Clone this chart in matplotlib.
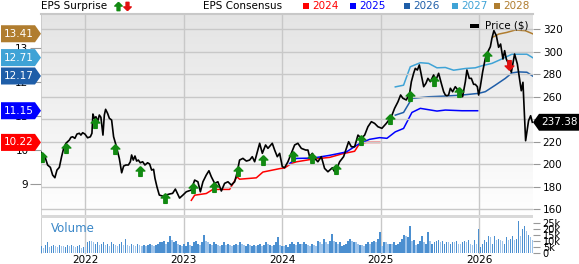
import numpy as np
import matplotlib.pyplot as plt
from matplotlib.patches import Polygon, Rectangle
from matplotlib.lines import Line2D
from matplotlib.colors import LinearSegmentedColormap
import matplotlib.transforms as mtransforms

plt.rcParams['font.family'] = 'DejaVu Sans'

# ---- data (decimal years) ----
price_t = [2021.543, 2021.566, 2021.590, 2021.617, 2021.645, 2021.668, 2021.691, 2021.712, 2021.736, 2021.759,
           2021.780, 2021.803, 2021.838, 2021.854, 2021.871, 2021.894, 2021.915, 2021.939, 2021.955, 2021.973,
           2021.996, 2022.023, 2022.051, 2022.067, 2022.077, 2022.091, 2022.108, 2022.125, 2022.142, 2022.158,
           2022.179, 2022.193, 2022.206, 2022.226, 2022.244, 2022.267, 2022.287, 2022.311, 2022.345, 2022.369,
           2022.389, 2022.412, 2022.437, 2022.457, 2022.470, 2022.487, 2022.504, 2022.521, 2022.538, 2022.558,
           2022.582, 2022.605, 2022.632, 2022.653, 2022.673, 2022.693, 2022.707, 2022.727, 2022.751, 2022.785,
           2022.818, 2022.853, 2022.886, 2022.914, 2022.957, 2022.991, 2023.025, 2023.076, 2023.110, 2023.143,
           2023.168, 2023.194, 2023.228, 2023.255, 2023.279, 2023.313, 2023.346, 2023.381, 2023.414, 2023.448,
           2023.482, 2023.516, 2023.539, 2023.566, 2023.600, 2023.635, 2023.668, 2023.695, 2023.719, 2023.742,
           2023.770, 2023.797, 2023.830, 2023.854, 2023.898, 2023.922, 2023.949, 2023.973, 2024.000, 2024.023,
           2024.057, 2024.091, 2024.125, 2024.158, 2024.193, 2024.237, 2024.260, 2024.277, 2024.305, 2024.328,
           2024.361, 2024.396, 2024.429, 2024.463, 2024.508, 2024.531, 2024.554, 2024.582, 2024.622, 2024.650,
           2024.673, 2024.701, 2024.734, 2024.768, 2024.802, 2024.836, 2024.869, 2024.904, 2024.937, 2024.971,
           2025.011, 2025.056, 2025.107, 2025.140, 2025.174, 2025.201, 2025.224, 2025.259, 2025.292, 2025.310,
           2025.333, 2025.350, 2025.371, 2025.391, 2025.411, 2025.435, 2025.458, 2025.478, 2025.503, 2025.536,
           2025.559, 2025.587, 2025.614, 2025.638, 2025.655, 2025.671, 2025.688, 2025.706, 2025.729, 2025.756,
           2025.783, 2025.807, 2025.830, 2025.858, 2025.874, 2025.898, 2025.919, 2025.942, 2025.959, 2025.980,
           2025.993, 2026.010, 2026.034, 2026.061, 2026.087, 2026.112, 2026.128, 2026.148, 2026.173, 2026.196,
           2026.216, 2026.240, 2026.257, 2026.274, 2026.297, 2026.325, 2026.358, 2026.386, 2026.409, 2026.426,
           2026.443, 2026.470, 2026.500, 2026.521, 2026.538]
price_v = [211.8, 208.3, 206.8, 199.4, 197.3, 190.5, 188.1, 194.9, 197.3, 206.8,
           214.2, 218.7, 221.6, 224.0, 224.5, 223.1, 226.9, 227.6, 226.0, 228.1,
           226.9, 223.6, 224.5, 227.6, 244.7, 240.9, 242.3, 237.9, 243.8, 241.8,
           226.0, 243.8, 248.9, 245.3, 240.9, 239.4, 224.5, 217.2, 205.3, 192.5,
           198.5, 199.4, 199.4, 202.3, 208.3, 203.8, 207.4, 202.9, 203.8, 201.4,
           202.3, 199.4, 201.4, 200.3, 194.9, 195.6, 187.6, 180.1, 172.7, 171.8,
           172.7, 173.6, 174.2, 178.0, 170.0, 172.7, 175.6, 177.2, 186.0, 184.5,
           175.6, 184.5, 190.5, 194.3, 189.0, 183.1, 184.5, 176.3, 183.1, 184.5,
           181.6, 184.5, 192.0, 203.8, 205.3, 202.9, 203.8, 206.8, 202.3, 209.8,
           218.7, 209.8, 217.2, 214.2, 218.7, 212.7, 206.8, 209.8, 197.9, 197.0,
           202.3, 209.8, 217.2, 218.7, 214.2, 212.7, 212.7, 206.8, 209.8, 205.3,
           202.3, 206.8, 196.4, 193.4, 197.0, 193.4, 196.4, 202.3, 206.8, 214.2,
           220.1, 215.6, 215.6, 226.0, 223.1, 226.0, 233.4, 237.9, 236.4, 233.4,
           232.0, 236.4, 242.3, 249.8, 255.6, 261.6, 258.7, 257.2, 263.1, 273.4,
           280.9, 285.3, 283.8, 288.3, 279.4, 269.0, 272.0, 276.4, 273.4, 279.4,
           274.9, 280.9, 272.0, 264.5, 261.6, 261.0, 261.6, 267.6, 264.5, 269.0,
           266.0, 264.5, 260.1, 273.4, 283.8, 276.4, 276.4, 271.1, 271.1, 269.0,
           261.6, 269.0, 282.3, 294.2, 300.1, 304.5, 312.0, 318.8, 314.3, 304.0,
           306.9, 293.6, 301.0, 293.6, 289.2, 281.8, 298.0, 289.2, 275.8, 265.4,
           272.9, 221.0, 238.8, 243.2, 237.38]

eps24_t = [2023.076, 2023.110, 2023.228, 2023.295, 2023.465, 2023.539, 2023.566, 2023.736, 2023.803, 2023.973,
           2024.023, 2024.091, 2024.142, 2024.311, 2024.480, 2024.615, 2024.734, 2024.785, 2024.853, 2024.988]
eps24_v = [8.52, 8.67, 8.72, 8.84, 8.84, 9.21, 9.14, 9.18, 9.35, 9.45,
           9.47, 9.60, 9.65, 9.73, 9.78, 9.89, 9.96, 10.19, 10.22, 10.22]
eps25_t = [2024.074, 2024.142, 2024.311, 2024.480, 2024.650, 2024.785, 2024.886, 2024.988, 2025.062, 2025.147,
           2025.231, 2025.316, 2025.401, 2025.570, 2025.655, 2025.823, 2025.983]
eps25_v = [9.60, 9.75, 9.76, 9.84, 9.94, 10.19, 10.31, 10.36, 10.34, 10.53,
           10.63, 11.10, 11.22, 11.14, 11.17, 11.15, 11.15]
eps26_t = [2025.147, 2025.231, 2025.299, 2025.316, 2025.485, 2025.655, 2025.823, 2025.993, 2026.061, 2026.162,
           2026.264, 2026.331, 2026.399, 2026.483, 2026.541]
eps26_v = [11.02, 11.10, 11.43, 11.51, 11.56, 11.58, 11.61, 11.66, 11.71, 11.90,
           12.10, 12.26, 12.29, 12.28, 12.17]
eps27_t = [2025.147, 2025.231, 2025.299, 2025.401, 2025.485, 2025.570, 2025.655, 2025.739, 2025.858, 2025.959,
           2026.026, 2026.128, 2026.229, 2026.331, 2026.399, 2026.483, 2026.541]
eps27_v = [11.85, 11.90, 12.44, 12.56, 12.54, 12.41, 12.42, 12.34, 12.39, 12.41,
           12.47, 12.54, 12.67, 12.81, 12.81, 12.81, 12.71]
eps28_t = [2026.145, 2026.196, 2026.280, 2026.365, 2026.467, 2026.541]
eps28_v = [13.32, 13.40, 13.45, 13.52, 13.50, 13.41]

beat_t = [2021.563, 2021.807, 2022.094, 2022.305, 2022.551, 2022.805, 2023.089, 2023.303, 2023.549, 2023.803,
          2024.108, 2024.301, 2024.548, 2024.802, 2025.096, 2025.292, 2025.543, 2025.790, 2026.077]
beat_p = [206.8, 214.8, 236.4, 213.6, 194.3, 169.8, 178.9, 180.1, 194.3, 203.8,
          207.4, 205.3, 195.6, 221.6, 240.0, 261.0, 274.0, 264.5, 296.3]
miss_t = [2026.298]
miss_p = [288.3]

# weekly volume, thousands
volume = [6, 4, 7, 9.5, 5, 6, 7, 6, 5, 7, 6, 6, 5, 7, 6, 7, 6, 5, 6, 7, 4, 5,
          5, 9, 10, 10, 9, 8, 9, 7, 8, 9, 7, 8, 6, 9, 8, 7, 6, 8, 9, 7, 12, 7, 6, 8, 7, 6, 8, 7,
          6, 7, 6, 7, 8, 7, 6, 7, 8, 9, 9, 10, 8, 9, 14, 11, 9, 10, 8, 7, 6,
          8, 6, 9, 7, 6, 9, 10, 8, 7, 9, 15, 10, 9, 8, 7, 9, 8, 7, 6, 7, 9, 7, 8, 7, 6,
          7, 8, 7, 9, 8, 7, 6, 8, 7, 6, 7, 6, 7, 8, 6, 7, 9, 8, 7, 6, 7, 9, 13.6, 7, 6,
          6, 7, 5, 8, 9, 8, 7, 9, 8, 8, 9, 8, 7, 6, 8, 7, 6, 10, 9, 8, 12, 9, 8, 10, 15.5,
          10, 9, 8, 9, 6, 7, 8, 10, 12, 10, 9, 9, 8, 7, 7, 6, 8, 9, 8, 9, 10, 9, 12, 17,
          6, 9, 9, 8, 8, 8, 9, 7, 8, 9, 12, 15, 14, 13, 22, 10, 11, 7, 8, 10, 14, 9, 8, 17.6,
          10, 8, 9, 10, 11, 9, 10, 8, 9, 9, 8, 9, 9, 10, 8, 8, 9, 10, 9, 11, 8, 7, 11, 8, 19.6,
          5, 8, 11, 9, 14, 13, 8, 14, 11, 12, 11, 10, 8, 13, 11, 12, 14, 11, 12, 26.5, 14, 20, 22, 18, 15, 13, 11]

years = [2022, 2023, 2024, 2025, 2026]
price_ticks = [160, 180, 200, 220, 240, 260, 280, 300, 320]
eps_ticks = [9, 10, 11, 12, 13]
vol_ticks = [0, 5, 10, 15, 20, 25]
vol_labels = ['0', '5k', '10k', '15k', '20k', '25k']

c24, c25, c26, c27, c28 = '#ff0000', '#0000ff', '#1f5ea8', '#3fa3d6', '#b07d2f'
grid_c = '#c8c8c8'

W, H = 579, 264
fig = plt.figure(figsize=(W / 100, H / 100), dpi=100)
x0, x1 = 41, 533
ax = fig.add_axes([x0 / W, 1 - 217 / H, (x1 - x0) / W, (217 - 14) / H])
axp = ax.twinx()
axv = fig.add_axes([x0 / W, 1 - 254 / H, (x1 - x0) / W, (254 - 218) / H])

xlim = (2021.55, 2026.545)
for a in (ax, axp, axv):
    a.set_xlim(*xlim)
ax.set_ylim(8.03, 13.99)
axp.set_ylim(153.2, 333.6)
axv.set_ylim(-0.5, 28.8)

# background gradient
cmap = LinearSegmentedColormap.from_list('bg', ['#ffffff', '#e4e4e4'])
grad = np.linspace(0, 1, 256).reshape(-1, 1)
ax.imshow(grad, extent=[0, 1, 0, 1], transform=ax.transAxes, aspect='auto',
          cmap=cmap, origin='lower', zorder=0)

for a in (ax, axp, axv):
    for s in a.spines.values():
        s.set_visible(False)

# grid
for p in price_ticks:
    axp.axhline(p, color=grid_c, lw=1, zorder=0.5)
for y in years:
    ax.axvline(y, color=grid_c, lw=1, zorder=0.5)
    axv.axvline(y, color=grid_c, lw=1, zorder=0.5)
ax.axvline(xlim[0], color=grid_c, lw=1.2)
axv.axvline(xlim[0], color=grid_c, lw=1.2)
ax.axhline(13.99, color=grid_c, lw=1.5, clip_on=False)
fig.add_artist(Rectangle((x0 / W, 1 - 218 / H), (x1 - x0) / W, 3 / H,
                         transform=fig.transFigure, color='#d9d9d9', lw=0))

# eps consensus lines
for t, v, c in [(eps24_t, eps24_v, c24), (eps25_t, eps25_v, c25), (eps26_t, eps26_v, c26),
                (eps27_t, eps27_v, c27), (eps28_t, eps28_v, c28)]:
    ax.plot(t, v, color=c, lw=1.1, zorder=2)

# price
axp.plot(price_t, price_v, color='black', lw=1.2, zorder=3)

arrow_up = [(0, 1), (0.9, 0.1), (0.35, 0.1), (0.35, -1), (-0.35, -1), (-0.35, 0.1), (-0.9, 0.1), (0, 1)]
arrow_dn = [(x, -y) for x, y in arrow_up]
axp.plot(beat_t, beat_p, ls='none', marker=arrow_up, ms=7, color='#128a12', mec='#128a12', zorder=4)
axp.plot(miss_t, miss_p, ls='none', marker=arrow_dn, ms=7, color='#e01010', mec='#e01010', zorder=4)

# axis ticks
ax.set_xticks(years)
ax.tick_params(axis='x', length=0, labelbottom=False)
axp.tick_params(axis='x', length=0, labelbottom=False)
ax.set_yticks(eps_ticks)
ax.set_yticklabels([str(v) for v in eps_ticks])
ax.tick_params(axis='y', length=8, color='#999999', labelsize=7.5, pad=1)
axp.set_yticks(price_ticks)
axp.tick_params(axis='y', length=5, color='#999999', labelsize=7.5, pad=2)
axv.set_xticks(years)
axv.set_xticklabels([str(y) for y in years])
axv.tick_params(axis='x', length=0, labelsize=7.5, pad=0.5)
axv.yaxis.tick_right()
axv.set_yticks(vol_ticks)
axv.set_yticklabels(vol_labels)
axv.tick_params(axis='y', length=5, color='#999999', labelsize=7, pad=2)
axv.set_facecolor('white')

# volume bars
vt = np.linspace(xlim[0] + 0.005, xlim[1] - 0.005, len(volume))
vcol = ['#4b8fd0' if i % 3 == 0 or volume[i] > volume[i - 1] else '#9dc3ea' for i in range(len(volume))]
axv.bar(vt, volume, width=(vt[1] - vt[0]) * 0.8, color=vcol, lw=0, zorder=2)
axv.text(0.02, 0.72, 'Volume', transform=axv.transAxes, color='#3a87c8', fontsize=8.5, va='center')

# left EPS value boxes
blend = mtransforms.blended_transform_factory(fig.transFigure, ax.transData)
hh = 0.25
for v, c in [(13.41, c28), (12.71, c27), (12.17, c26), (11.15, c25), (10.22, c24)]:
    poly = Polygon([(1 / W, v - hh), (35 / W, v - hh), (41 / W, v), (35 / W, v + hh), (1 / W, v + hh)],
                   closed=True, transform=blend, facecolor=c, edgecolor='none', clip_on=False, zorder=10)
    fig.add_artist(poly)
    fig.text(19 / W, v, f'{v:.2f}', transform=blend, color='white', fontsize=7.5,
             ha='center', va='center', zorder=11)

# right price box
blendp = mtransforms.blended_transform_factory(fig.transFigure, axp.transData)
last = price_v[-1]
ph = 7.5
fig.add_artist(Polygon([(533 / W, last), (539 / W, last + ph), (579 / W, last + ph),
                        (579 / W, last - ph), (539 / W, last - ph)], closed=True,
                       transform=blendp, facecolor='black', edgecolor='none', clip_on=False, zorder=10))
fig.text(559 / W, last, f'{last:.2f}', transform=blendp, color='white', fontsize=7.5,
         ha='center', va='center', zorder=11)

# header
ty = 1 - 6 / H
fig.text(41 / W, ty, 'EPS Surprise', fontsize=7.5, va='center')
fig.add_artist(Line2D([118 / W], [ty], marker=arrow_up, ms=6, color='#128a12', transform=fig.transFigure))
fig.add_artist(Line2D([127 / W], [ty], marker=arrow_dn, ms=6, color='#e01010', transform=fig.transFigure))
fig.text(203 / W, ty, 'EPS Consensus', fontsize=7.5, va='center')
for xs, lab, c in [(303, '2024', c24), (350, '2025', c25), (404, '2026', c26), (452, '2027', c27), (494, '2028', c28)]:
    fig.add_artist(Rectangle((xs / W, 1 - 9 / H), 6 / W, 6 / H, transform=fig.transFigure, color=c, lw=0))
    fig.text((xs + 9) / W, ty, lab, fontsize=7.5, color=c, va='center')

# price legend
fig.add_artist(Rectangle((470 / W, 1 - 28 / H), 9 / W, 4 / H, transform=fig.transFigure, color='black', lw=0))
fig.text(485 / W, 1 - 26 / H, 'Price ($)', fontsize=7.5, va='center')

fig.savefig('out.png', dpi=100)
